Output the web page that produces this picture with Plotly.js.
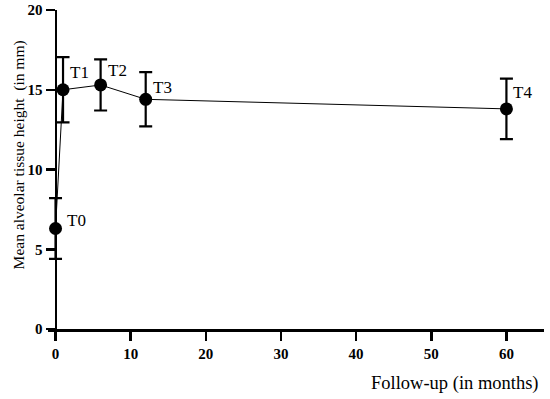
<!DOCTYPE html>
<html><head><meta charset="utf-8">
<script src="https://cdn.plot.ly/plotly-3.0.1.min.js"></script>
<style>html,body{margin:0;padding:0;background:#fff}#chart{width:550px;height:399px}</style>
</head><body><div id="chart"></div>
<script>
const months = [0, 1, 6, 12, 60];
const meanHeight = [6.3, 15.0, 15.3, 14.4, 13.8];
const sdHeight = [1.9, 2.05, 1.6, 1.7, 1.9];
const timeLabels = ['T0', 'T1', 'T2', 'T3', 'T4'];
const xTicks = [0, 10, 20, 30, 40, 50, 60];
const yTicks = [0, 5, 10, 15, 20];

const serif = '"Liberation Serif", "DejaVu Serif", serif';
const labelShift = [8, 17, 14, 12, 16];

const trace = {
  x: months, y: meanHeight, type: 'scatter', mode: 'lines+markers',
  line: {color: '#000', width: 1},
  marker: {color: '#000', size: 13},
  error_y: {type: 'data', array: sdHeight, visible: true, color: '#000', thickness: 2.2, width: 6.5},
  hoverinfo: 'none', showlegend: false
};

const annotations = timeLabels.map((t, i) => ({
  x: months[i], y: meanHeight[i], xref: 'x', yref: 'y', text: t, showarrow: false,
  xanchor: 'left', yanchor: 'middle', xshift: i === 0 ? 9 : 5, yshift: labelShift[i],
  font: {family: serif, size: 17, color: '#000'}
}));
annotations.push({
  xref: 'paper', yref: 'paper', x: 0.993, y: -0.172, xanchor: 'right', yanchor: 'middle',
  text: 'Follow-up (in months)', showarrow: false,
  font: {family: serif, size: 18.5, color: '#000'}
});
annotations.push({
  xref: 'paper', yref: 'paper', x: -0.058, y: 0.545, xanchor: 'center', yanchor: 'middle',
  text: 'Mean alveolar tissue height  (in mm)', textangle: -90, showarrow: false,
  font: {family: serif, size: 15.5, color: '#000'}
});

const layout = {
  width: 550, height: 399,
  margin: {l: 47.5, r: 6, t: 10, b: 70},
  paper_bgcolor: '#fff', plot_bgcolor: '#fff',
  xaxis: {
    range: [-1, 65], tickvals: xTicks, showgrid: false, zeroline: false,
    showline: true, linecolor: '#000', linewidth: 2.5,
    ticks: 'outside', ticklen: 9, tickwidth: 2.5, tickcolor: '#000',
    tickfont: {family: serif, size: 15, color: '#000', weight: 'bold'}
  },
  yaxis: {
    range: [0, 20], tickvals: yTicks, showgrid: false, zeroline: false,
    anchor: 'free', position: 1/66,
    showline: true, linecolor: '#000', linewidth: 2.5,
    ticks: 'outside', ticklen: 9, tickwidth: 2.5, tickcolor: '#000',
    tickfont: {family: serif, size: 15, color: '#000', weight: 'bold'}
  },
  annotations: annotations
};

Plotly.newPlot('chart', [trace], layout, {staticPlot: true, displayModeBar: false});
</script></body></html>
